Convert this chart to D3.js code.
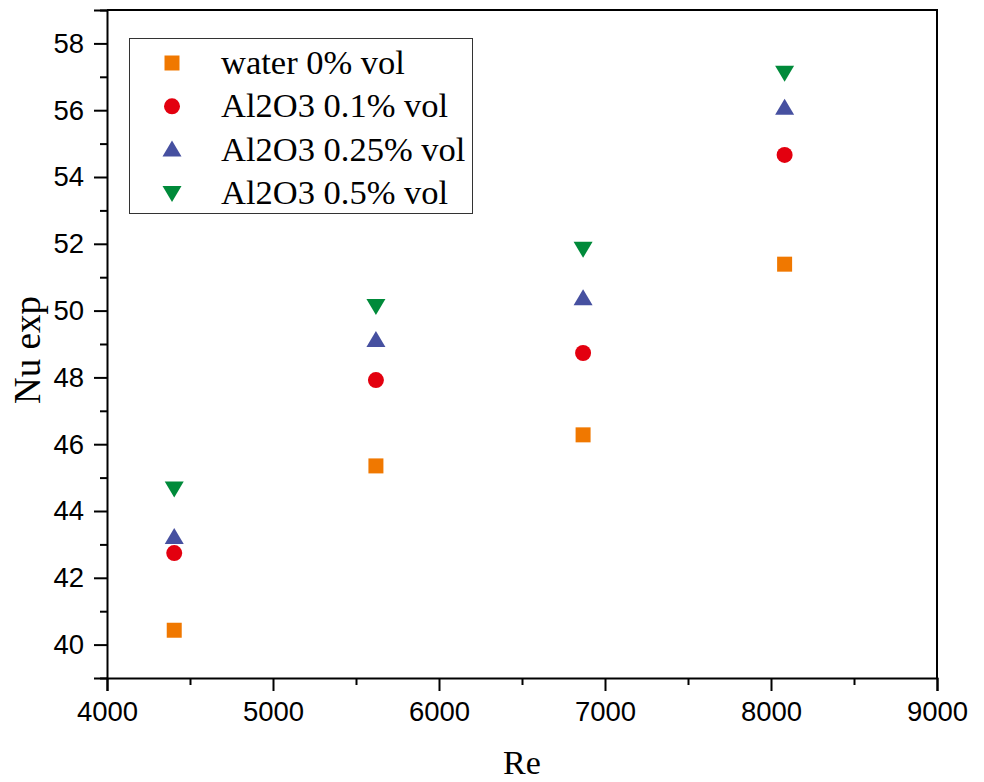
<!DOCTYPE html>
<html>
<head>
<meta charset="utf-8">
<script src="https://cdn.jsdelivr.net/npm/d3@7"></script>
<style>
  body { margin: 0; background: #fff; }
  svg { display: block; }
</style>
</head>
<body>
<div id="chart"></div>
<script>
// Reynolds numbers (same for every series)
var reValues = [4405, 5620, 6868, 8082];

var seriesNames = ["water 0% vol", "Al2O3 0.1% vol", "Al2O3 0.25% vol", "Al2O3 0.5% vol"];
var seriesColors = ["#f07800", "#e3000f", "#4650a0", "#008a3a"];
var seriesShapes = ["square", "circle", "triangle", "triangleDown"];

var nuWater = [40.43, 45.35, 46.28, 51.39];
var nuAl01 = [42.74, 47.92, 48.73, 54.66];
var nuAl025 = [43.22, 49.12, 50.37, 56.07];
var nuAl05 = [44.67, 50.14, 51.85, 57.12];

var xTicks = [4000, 5000, 6000, 7000, 8000, 9000];
var yTicks = [40, 42, 44, 46, 48, 50, 52, 54, 56, 58];

var W = 984, H = 782;
var mLeft = 107, mRight = 937, mTop = 10, mBottom = 678;

var svg = d3.select("#chart").append("svg")
  .attr("width", W)
  .attr("height", H);

var x = d3.scaleLinear().domain([4000, 9000]).range([mLeft, mRight]);
var y = d3.scaleLinear().domain([39, 59]).range([mBottom, mTop]);

// frame (top and right lines)
svg.append("path")
  .attr("d", "M" + mLeft + "," + mTop + "H" + mRight + "V" + mBottom)
  .attr("fill", "none")
  .attr("stroke", "#000")
  .attr("stroke-width", 2);

// minor ticks
var gMinor = svg.append("g");
gMinor.append("g")
  .attr("transform", "translate(0," + mBottom + ")")
  .call(d3.axisBottom(x).tickValues([4500, 5500, 6500, 7500, 8500]).tickSize(7).tickFormat(""));
gMinor.append("g")
  .attr("transform", "translate(" + mLeft + ",0)")
  .call(d3.axisLeft(y).tickValues(d3.range(39, 60, 2)).tickSize(7).tickFormat(""));
gMinor.selectAll(".domain").remove();
gMinor.selectAll("line").attr("stroke-width", 2);

var gX = svg.append("g")
  .attr("transform", "translate(0," + mBottom + ")")
  .call(d3.axisBottom(x).tickValues(xTicks).tickSize(13).tickPadding(10).tickFormat(d3.format("d")));

var gY = svg.append("g")
  .attr("transform", "translate(" + mLeft + ",0)")
  .call(d3.axisLeft(y).tickValues(yTicks).tickSize(13).tickPadding(10).tickFormat(d3.format("d")));

[gX, gY].forEach(function (g) {
  g.select(".domain").attr("stroke-width", 2);
  g.selectAll("line").attr("stroke-width", 2);
  g.selectAll("text")
    .attr("font-family", "Liberation Sans, Arial, sans-serif")
    .attr("font-size", 27.5)
    .attr("fill", "#000");
});

// axis titles
svg.append("text")
  .attr("x", (mLeft + mRight) / 2)
  .attr("y", 774)
  .attr("text-anchor", "middle")
  .attr("font-family", "Liberation Serif, Times New Roman, serif")
  .attr("font-size", 34)
  .text("Re");

svg.append("text")
  .attr("transform", "translate(40,350) rotate(-90)")
  .attr("text-anchor", "middle")
  .attr("font-family", "Liberation Serif, Times New Roman, serif")
  .attr("font-size", 37)
  .text("Nu exp");

// marker shapes
function markerPath(shape) {
  if (shape === "square") return "M-7.5,-7.5H7.5V7.5H-7.5Z";
  if (shape === "circle") return d3.symbol().type(d3.symbolCircle).size(Math.PI * 8 * 8)();
  if (shape === "triangle") return "M0,-9L9.5,7H-9.5Z";
  return "M0,9L9.5,-7H-9.5Z";
}

var allSeries = [nuWater, nuAl01, nuAl025, nuAl05];

allSeries.forEach(function (vals, i) {
  svg.append("g").selectAll("path")
    .data(vals)
    .join("path")
    .attr("transform", function (d, j) { return "translate(" + x(reValues[j]) + "," + y(d) + ")"; })
    .attr("d", markerPath(seriesShapes[i]))
    .attr("fill", seriesColors[i]);
});

// legend
var legend = svg.append("g");
legend.append("rect")
  .attr("x", 129.5).attr("y", 38.5)
  .attr("width", 343).attr("height", 175)
  .attr("fill", "#fff")
  .attr("stroke", "#333")
  .attr("stroke-width", 1);

seriesNames.forEach(function (name, i) {
  var cy = 63 + i * 43.3;
  legend.append("path")
    .attr("transform", "translate(172," + cy + ")")
    .attr("d", markerPath(seriesShapes[i]))
    .attr("fill", seriesColors[i]);
  legend.append("text")
    .attr("x", 221)
    .attr("y", cy + 11)
    .attr("font-family", "Liberation Serif, Times New Roman, serif")
    .attr("font-size", 34.5)
    .text(name);
});
</script>
</body>
</html>
